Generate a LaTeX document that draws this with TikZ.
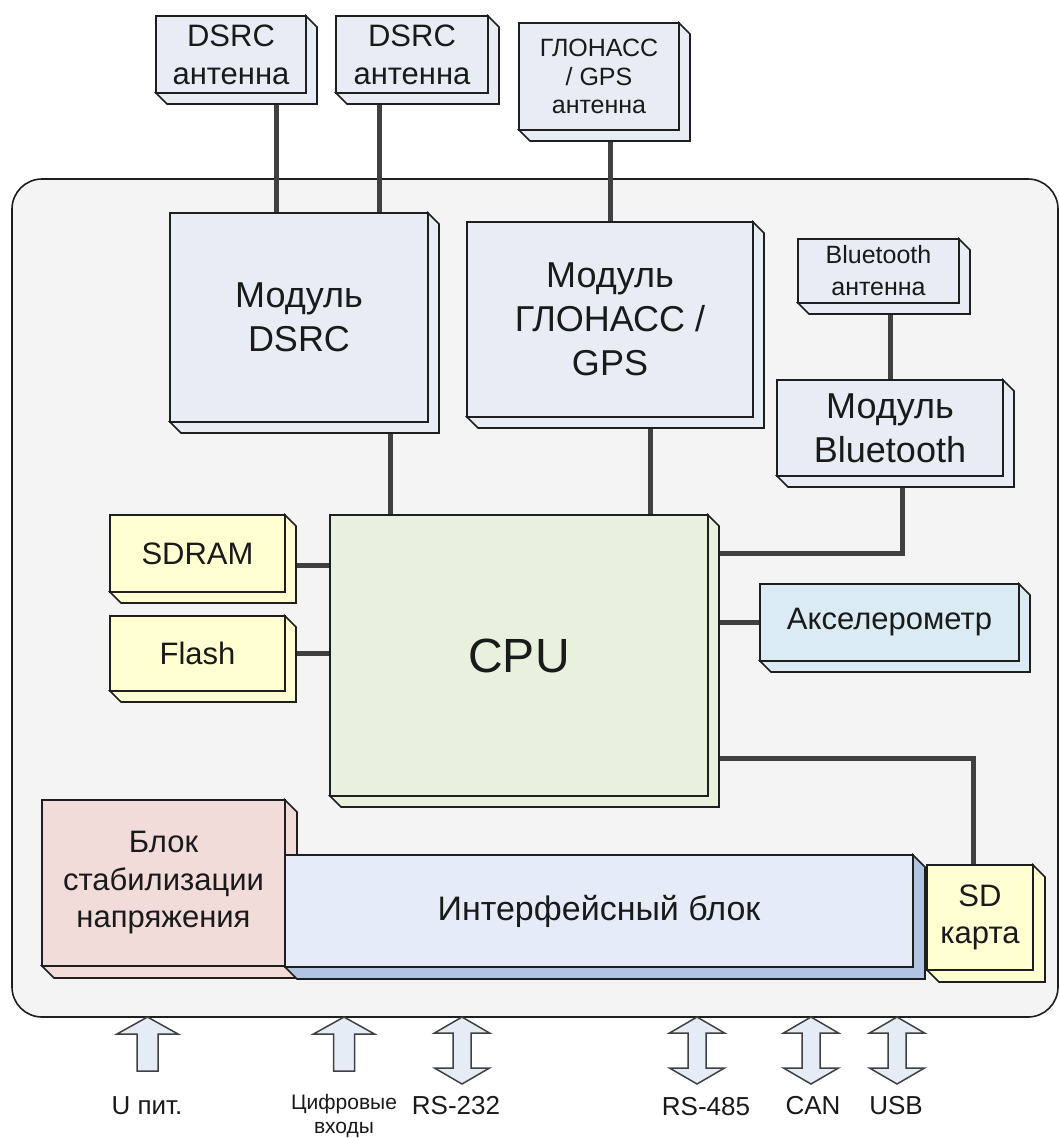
\documentclass[tikz,border=0pt]{standalone}
\usepackage{fontspec}
\setmainfont{Liberation Sans}
\usetikzlibrary{calc}
\pgfdeclarelayer{bg}
\pgfdeclarelayer{wires}
\pgfsetlayers{bg,wires,main}
\definecolor{pagebg}{HTML}{F4F4F4}
\definecolor{modfill}{HTML}{E8EDF5}
\definecolor{yelfill}{HTML}{FFFFD2}
\definecolor{cpufill}{HTML}{E8F0DE}
\definecolor{accfill}{HTML}{DAEBF3}
\definecolor{stabfill}{HTML}{F2DCDA}
\definecolor{iffill}{HTML}{E6ECF7}
\definecolor{ifdepth}{HTML}{B1C5E2}
\definecolor{edgec}{HTML}{1E1E1E}
\definecolor{wirec}{HTML}{404040}
\definecolor{arrowfill}{HTML}{E6ECF6}
\definecolor{textc}{HTML}{1A1A1A}
\tikzset{
 boxline/.style={draw=edgec, line width=1.6pt, line join=miter},
 face/.style={boxline, rectangle, inner sep=0pt, outer sep=0pt, align=center, text=textc},
 wire/.style={draw=wirec, line width=5pt},
 blockarrow/.style={draw=edgec!85, line width=1.5pt, fill=arrowfill, line join=miter},
 fA/.style={font=\fontsize{31}{38}\selectfont},
 fB/.style={font=\fontsize{25}{28.5}\selectfont},
 fBT/.style={font=\fontsize{25}{32}\selectfont},
 fM/.style={font=\fontsize{36}{44}\selectfont},
 fS/.style={font=\fontsize{31}{37.5}\selectfont},
 fI/.style={font=\fontsize{34}{40}\selectfont},
 fCPU/.style={font=\fontsize{48}{56}\selectfont},
 fL/.style={font=\fontsize{26}{30}\selectfont},
 fXS/.style={font=\fontsize{21}{24}\selectfont},
 lbl/.style={inner sep=0pt, text=textc, align=center},
}
\def\dd{11}
% name, x1, y1, x2, y2, face fill, depth fill, font style, text
\newcommand\tdbox[9]{%
  \filldraw[boxline, fill=#7] (#4,#3) -- ({#4+\dd},{#3+\dd}) -- ({#4+\dd},{#5+\dd}) -- ({#2+\dd},{#5+\dd}) -- (#2,#5) -- (#4,#5) -- cycle;
  \node[face, fill=#6, #8, minimum width={#4pt-#2pt}, minimum height={#5pt-#3pt}] (#1) at ({(#2+#4)/2},{(#3+#5)/2}) {#9};
}
\newcommand\uparr[1]{\draw[blockarrow] (#1,1017) -- ++(30.5,17) -- ++(-20,0) -- ++(0,37) -- ++(-21,0) -- ++(0,-37) -- ++(-20,0) -- cycle;}
\newcommand\dblarr[1]{\draw[blockarrow] (#1,1017) -- ++(27.5,16) -- ++(-18.5,0) -- ++(0,35) -- ++(18.5,0) -- ++(-27.5,16) -- ++(-27.5,-16) -- ++(18.5,0) -- ++(0,-35) -- ++(-18.5,0) -- cycle;}
\begin{document}
\begin{tikzpicture}[x=1pt,y=-1pt]
\useasboundingbox (0,0) rectangle (1060,1138);
\begin{pgfonlayer}{bg}
\fill[white] (0,0) rectangle (1060,1138);
\draw[fill=pagebg, draw=edgec, line width=1.6pt, rounded corners=30pt] (12,179) rectangle (1058,1017);
\end{pgfonlayer}

\tdbox{ant1}{156}{16}{306}{93}{modfill}{modfill}{fA}{DSRC\\антенна}
\tdbox{ant2}{336}{16}{488}{93}{modfill}{modfill}{fA}{DSRC\\антенна}
\tdbox{gant}{519}{23}{679}{130}{modfill}{modfill}{fB}{ГЛОНАСС\\/ GPS\\антенна}
\tdbox{dsrc}{170}{213}{428}{422}{modfill}{modfill}{fM}{Модуль\\DSRC}
\tdbox{glon}{467}{222}{753}{417}{modfill}{modfill}{fM}{Модуль\\ГЛОНАСС /\\GPS}
\tdbox{btant}{798}{239}{959}{303}{modfill}{modfill}{fBT}{Bluetooth\\антенна}
\tdbox{btmod}{777}{380}{1003}{476}{modfill}{modfill}{fM}{Модуль\\Bluetooth}
\tdbox{cpu}{330}{515}{708}{796}{cpufill}{cpufill}{fCPU}{CPU}
\tdbox{sdram}{110}{515}{285}{592}{yelfill}{yelfill}{fS}{SDRAM}
\tdbox{flash}{110}{616}{285}{691}{yelfill}{yelfill}{fS}{Flash}
\tdbox{accel}{760}{584}{1019}{661}{accfill}{accfill}{fS}{Акселерометр}
\def\dd{12}
\tdbox{stab}{42}{800}{285}{966}{stabfill}{stabfill}{fS}{Блок\\стабилизации\\напряжения}
\tdbox{iface}{285}{855}{913}{967}{iffill}{ifdepth}{fI}{Интерфейсный блок}
\tdbox{sd}{927}{865}{1033}{970}{yelfill}{yelfill}{fS}{SD\\карта}

\coordinate (s1) at ([yshift=-50pt]sdram.north east);
\coordinate (f1) at ([yshift=-37pt]flash.north east);
\coordinate (b1) at ([yshift=-38pt]cpu.north east);
\coordinate (c1) at ([yshift=-243pt]cpu.north east);
\coordinate (a1) at ([xshift=45pt]ant1.south);
\coordinate (a2) at ([xshift=-33pt]ant2.south);
\coordinate (d1) at ([xshift=91pt]dsrc.south);
\coordinate (g1) at ([xshift=40pt]glon.south);
\coordinate (bt1) at ([xshift=12pt]btmod.south);
\coordinate (sd1) at ([xshift=-7pt]sd.north);

\begin{pgfonlayer}{wires}
\draw[wire] (a1) -- (a1 |- dsrc.north);
\draw[wire] (a2) -- (a2 |- dsrc.north);
\draw[wire] (gant.south -| glon.north) -- (glon.north);
\draw[wire] (d1) -- (d1 |- cpu.north);
\draw[wire] (g1) -- (g1 |- cpu.north);
\draw[wire] (btant.south -| btmod.north) -- (btmod.north);
\draw[wire] (bt1) |- (b1);
\draw[wire] (s1) -- (s1 -| cpu.west);
\draw[wire] (f1) -- (f1 -| cpu.west);
\draw[wire] (cpu.east |- accel.west) -- (accel.west);
\draw[wire] (c1) -| (sd1);
\end{pgfonlayer}

\uparr{147.5}
\uparr{344}
\dblarr{462}
\dblarr{697}
\dblarr{811}
\dblarr{897}

\node[lbl, fL] (lu) at (147,1106) {U пит.};
\node[lbl, fXS] (ldi) at (344,1116) {Цифровые\\входы};
\node[lbl, fL] (l232) at (456,1106) {RS-232};
\node[lbl, fL] (l485) at (706,1107) {RS-485};
\node[lbl, fL] (lcan) at (813,1106) {CAN};
\node[lbl, fL] (lusb) at (896,1106) {USB};
\end{tikzpicture}
\end{document}
